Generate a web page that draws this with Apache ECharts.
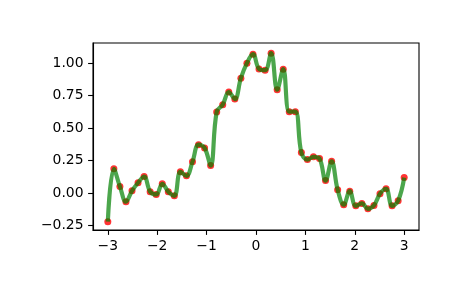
<!DOCTYPE html>
<html><head><meta charset="utf-8">
<script src="https://cdn.jsdelivr.net/npm/echarts@6/dist/echarts.min.js"></script>
<style>html,body{margin:0;padding:0;background:#fff}#c{width:465px;height:288px}</style>
</head><body><div id="c"></div>
<script>
const xValues = [-3.0000,-2.8776,-2.7551,-2.6327,-2.5102,-2.3878,-2.2653,-2.1429,-2.0204,-1.8980,
  -1.7755,-1.6531,-1.5306,-1.4082,-1.2857,-1.1633,-1.0408,-0.9184,-0.7959,-0.6735,
  -0.5510,-0.4286,-0.3061,-0.1837,-0.0612,0.0612,0.1837,0.3061,0.4286,0.5510,
  0.6735,0.7959,0.9184,1.0408,1.1633,1.2857,1.4082,1.5306,1.6531,1.7755,
  1.8980,2.0204,2.1429,2.2653,2.3878,2.5102,2.6327,2.7551,2.8776,3.0000];
const yValues = [-0.219,0.187,0.051,-0.066,0.018,0.080,0.128,0.011,-0.010,0.072,
  0.011,-0.020,0.164,0.133,0.241,0.373,0.348,0.212,0.624,0.680,
  0.777,0.723,0.884,0.999,1.068,0.955,0.945,1.076,0.795,0.953,
  0.626,0.626,0.312,0.258,0.279,0.266,0.097,0.245,0.026,-0.089,
  0.015,-0.097,-0.079,-0.120,-0.094,-0.005,0.034,-0.097,-0.058,0.120];
const xTicks = [-3,-2,-1,0,1,2,3];
const yTicks = [-0.25,0,0.25,0.5,0.75,1.0];

const pts = xValues.map((x,i)=>[x,yValues[i]]);
const fmtNum = (v,d)=>{const s=Math.abs(v).toFixed(d); return (v<0?'\u2212':'')+s;};
const labelStyle = {color:'#000', fontFamily:'DejaVu Sans', fontSize:13.9};
const chart = echarts.init(document.getElementById('c'), null, {renderer:'canvas'});
chart.setOption({
  animation:false,
  grid:{left:93,right:46,top:43,bottom:58,show:true,borderColor:'#000',borderWidth:1.1,backgroundColor:'transparent'},
  xAxis:{type:'value',min:-3.3,max:3.3,
    axisLine:{show:true,onZero:false,lineStyle:{color:'#000',width:1.1}},
    axisTick:{show:true,length:4.9,customValues:xTicks,lineStyle:{color:'#000',width:1.1}},
    axisLabel:Object.assign({margin:9.5,customValues:xTicks,formatter:v=>fmtNum(v,0)},labelStyle),
    splitLine:{show:false}},
  yAxis:{type:'value',min:-0.283,max:1.154,
    axisLine:{show:true,onZero:false,lineStyle:{color:'#000',width:1.1}},
    axisTick:{show:true,length:4.9,customValues:yTicks,lineStyle:{color:'#000',width:1.1}},
    axisLabel:Object.assign({margin:9.5,customValues:yTicks,formatter:v=>fmtNum(v,2)},labelStyle),
    splitLine:{show:false}},
  series:[
    {type:'scatter',data:pts,symbol:'circle',symbolSize:7,itemStyle:{color:'#ff0000'},z:2},
    {type:'line',data:pts,smooth:0.4,showSymbol:false,lineStyle:{color:'#008000',width:4.2,opacity:0.7},z:3}
  ]
});
</script></body></html>
